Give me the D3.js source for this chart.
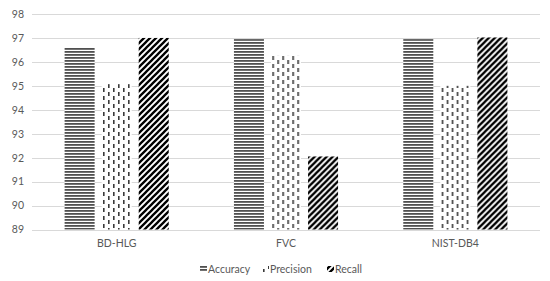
<!DOCTYPE html>
<html><head><meta charset="utf-8">
<script src="https://cdn.jsdelivr.net/npm/d3@7"></script>
<style>body{margin:0;background:#fff}svg{display:block}</style>
</head><body><svg id="c" width="550" height="281"></svg>
<script>
const categories = ["BD-HLG", "FVC", "NIST-DB4"];
const seriesNames = ["Accuracy", "Precision", "Recall"];
const accuracy = [96.62, 96.95, 96.95];
const precision = [95.07, 96.25, 95.0];
const recall = [97.0, 92.05, 97.02];
const yTicks = [89, 90, 91, 92, 93, 94, 95, 96, 97, 98];

const values = [accuracy, precision, recall];
const svg = d3.select("#c");
const W = 550, H = 281;
const m = {l: 32, r: 10, t: 14, b: 51.5};
const font = "Lato, 'Open Sans', sans-serif";
const txtCol = "#595959";

const defs = svg.append("defs");
// horizontal lines pattern
const p1 = defs.append("pattern").attr("id","pA").attr("patternUnits","userSpaceOnUse").attr("width",4).attr("height",3);
p1.append("rect").attr("width",4).attr("height",3).attr("fill","#fff");
p1.append("rect").attr("y",0).attr("width",4).attr("height",1.8).attr("fill","#505050");
// dashed vertical pattern
const p2 = defs.append("pattern").attr("id","pP").attr("patternUnits","userSpaceOnUse").attr("width",10).attr("height",8);
p2.append("rect").attr("width",10).attr("height",8).attr("fill","#fff");
p2.append("rect").attr("x",1).attr("y",0).attr("width",1.6).attr("height",4).attr("fill","#3a3a3a");
p2.append("rect").attr("x",6).attr("y",4).attr("width",1.6).attr("height",4).attr("fill","#3a3a3a");
// diagonal pattern
const p3 = defs.append("pattern").attr("id","pR").attr("patternUnits","userSpaceOnUse").attr("width",6).attr("height",6);
p3.append("rect").attr("width",6).attr("height",6).attr("fill","#fff");
p3.append("path").attr("d","M-1,7 L7,-1 M-4,4 L4,-4 M2,10 L10,2").attr("stroke","#000").attr("stroke-width",2.3);
const fills = ["url(#pA)","url(#pP)","url(#pR)"];

const y = d3.scaleLinear().domain([89, 98]).range([H - m.b, m.t]);
const x0 = d3.scaleBand().domain(categories).range([m.l, W - m.r]);
const x1 = d3.scaleBand().domain(seriesNames).range([0, x0.bandwidth()]).paddingInner(0.19).paddingOuter(0.88);

// gridlines
svg.append("g").selectAll("line").data(yTicks).join("line")
  .attr("x1", m.l).attr("x2", W - m.r)
  .attr("y1", d => Math.round(y(d)) + 0.5).attr("y2", d => Math.round(y(d)) + 0.5)
  .attr("stroke", "#d9d9d9").attr("stroke-width", 1);

// y labels
const yAxis = d3.axisLeft(y).tickValues(yTicks).tickSize(0).tickPadding(0);
const ya = svg.append("g").attr("transform", `translate(${m.l - 8},0)`).call(yAxis);
ya.select(".domain").remove();
ya.selectAll("text").attr("font-family", font).attr("font-size", 10.5).attr("fill", txtCol);

// bars
const groups = svg.append("g").selectAll("g").data(categories).join("g")
  .attr("transform", d => `translate(${x0(d)},0)`);
groups.selectAll("rect").data((d, i) => seriesNames.map((s, j) => ({s, j, v: values[j][i]})))
  .join("rect")
  .attr("x", d => x1(d.s)).attr("width", x1.bandwidth())
  .attr("y", d => y(d.v)).attr("height", d => y(89) - y(d.v))
  .attr("fill", d => fills[d.j]);

// x labels
const xAxis = d3.axisBottom(x0).tickSize(0).tickPadding(0);
const xa = svg.append("g").attr("transform", `translate(0,${H - m.b + 10})`).call(xAxis);
xa.select(".domain").remove();
xa.selectAll("text").attr("font-family", font).attr("font-size", 10.5).attr("fill", txtCol);

// legend
const legX = [200, 262, 327];
const lg = svg.append("g").selectAll("g").data(seriesNames).join("g")
  .attr("transform", (d, i) => `translate(${legX[i]},269)`);
lg.append("rect").attr("x", 0).attr("y", -3).attr("width", 7).attr("height", 6)
  .attr("fill", (d, i) => fills[i]);
lg.append("text").attr("x", 8).attr("y", 0).attr("dy", "0.35em")
  .attr("font-family", font).attr("font-size", 10.5).attr("fill", txtCol).text(d => d);
</script></body></html>
